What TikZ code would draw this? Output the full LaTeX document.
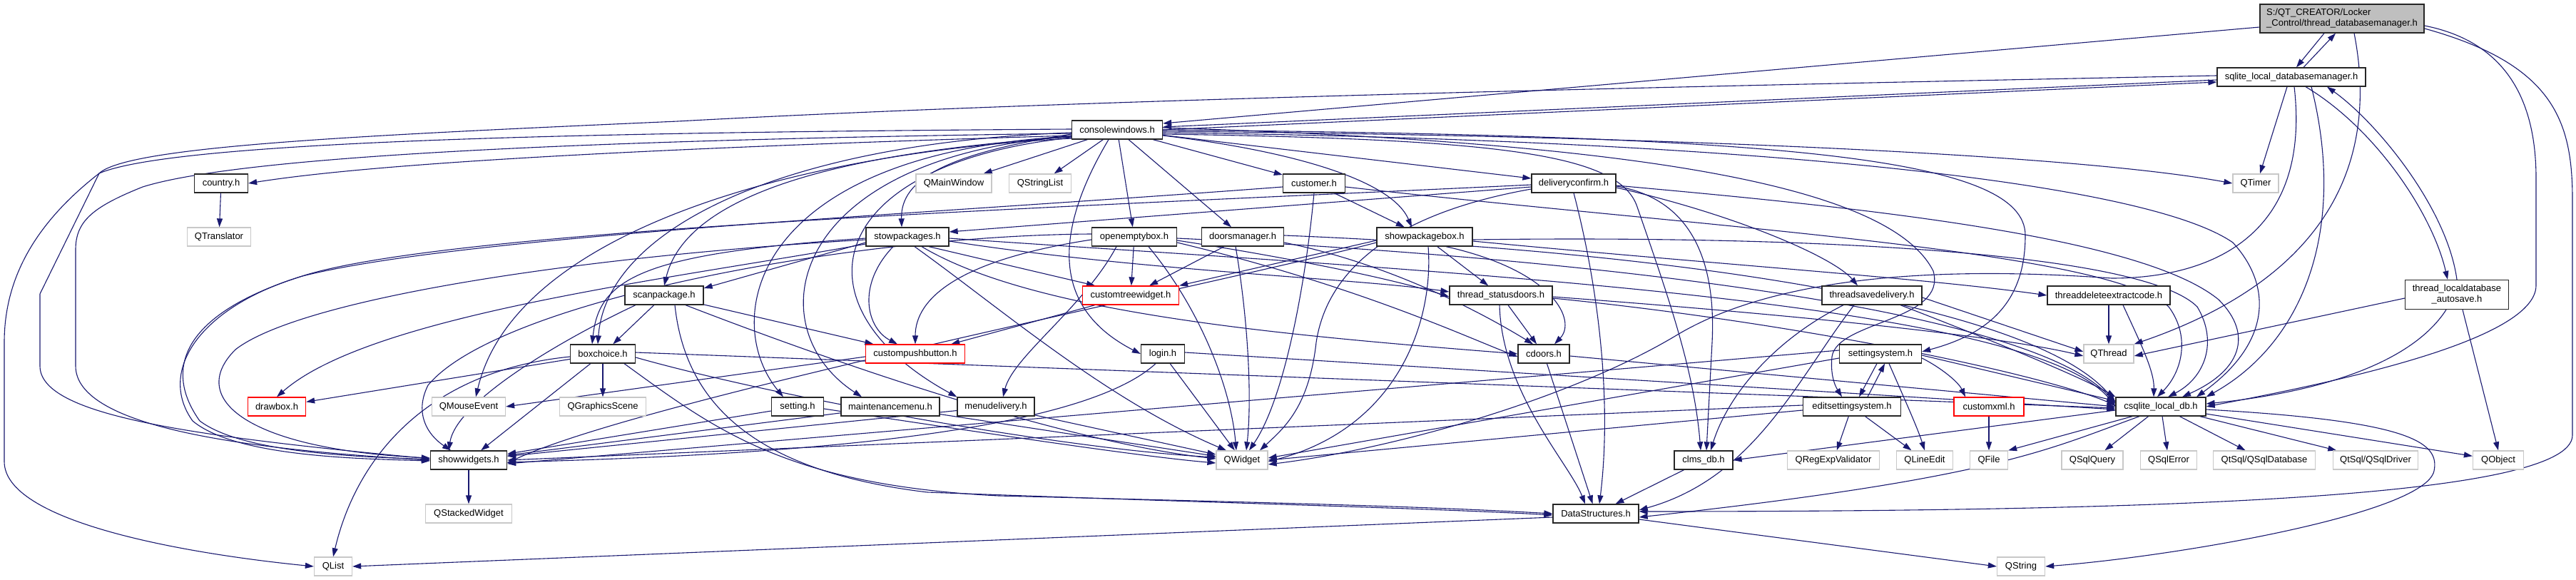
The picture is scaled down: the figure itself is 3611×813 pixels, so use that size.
\documentclass[tikz,border=0pt]{standalone}
\usepackage{fontspec}
\setmainfont{Liberation Sans}
\usetikzlibrary{arrows.meta,backgrounds}
\definecolor{edgec}{HTML}{191970}
\definecolor{extc}{HTML}{C8C8C8}
\definecolor{mainfill}{HTML}{BFBFBF}
\begin{document}
\begin{tikzpicture}[x=1pt,y=-1pt,font=\fontsize{13}{15}\selectfont,
  nd/.style={fill=white,line width=1.3pt,minimum height=26pt,inner sep=0pt,anchor=center},
  doc/.style={nd,draw=black!85},
  ext/.style={nd,draw=extc},
  redb/.style={nd,draw=red},
  mainst/.style={nd,draw=black!85,fill=mainfill,align=left,inner sep=3pt},
  e/.style={draw=edgec,line width=1.1pt,-{Triangle[length=12pt,width=8pt]}}]
\useasboundingbox (0,0) rectangle (3611,813);

% ---------- nodes ----------
\node[mainst,minimum width=230pt,minimum height=40pt] (main) at (3283,26) {S:/QT\_CREATOR/Locker\\\_Control/thread\_databasemanager.h};
\node[doc,minimum width=208pt] (sqlm) at (3212,108) {sqlite\_local\_databasemanager.h};
\node[doc,minimum width=127pt] (cw) at (1566,182) {consolewindows.h};
\node[doc,minimum width=75pt] (country) at (310,257) {country.h};
\node[ext,minimum width=89pt] (qtrans) at (307,332) {QTranslator};
\node[ext,minimum width=106pt] (qmain) at (1337,257) {QMainWindow};
\node[ext,minimum width=87pt] (qsl) at (1458,257) {QStringList};
\node[doc,minimum width=87pt] (cust) at (1842,257) {customer.h};
\node[doc,minimum width=118pt] (dconf) at (2206,257) {deliveryconfirm.h};
\node[ext,minimum width=64pt] (qtimer) at (3162,257) {QTimer};
\node[doc,minimum width=116pt] (stow) at (1272,332) {stowpackages.h};
\node[doc,minimum width=119pt] (oeb) at (1590,332) {openemptybox.h};
\node[doc,minimum width=115pt] (dm) at (1742,332) {doorsmanager.h};
\node[doc,minimum width=134pt] (spb) at (1997,332) {showpackagebox.h};
\node[doc,minimum width=110pt] (scan) at (931,414) {scanpackage.h};
\node[redb,minimum width=135pt] (ctw) at (1585,414) {customtreewidget.h};
\node[doc,minimum width=144pt] (tsd) at (2104,414) {thread\_statusdoors.h};
\node[doc,minimum width=140pt] (tsdel) at (2624,414) {threadsavedelivery.h};
\node[doc,minimum width=172pt] (tdec) at (2956,414) {threaddeleteextractcode.h};
\node[doc,minimum width=145pt,minimum height=41pt,align=center] (tlda) at (3444,413) {thread\_localdatabase\\\_autosave.h};
\node[doc,minimum width=91pt] (box) at (845,496) {boxchoice.h};
\node[redb,minimum width=139pt] (cpb) at (1283,496) {custompushbutton.h};
\node[doc,minimum width=61pt] (login) at (1630,496) {login.h};
\node[doc,minimum width=72pt] (cdoors) at (2164,496) {cdoors.h};
\node[doc,minimum width=115pt] (ss) at (2636,496) {settingsystem.h};
\node[ext,minimum width=70pt] (qthread) at (2956,496) {QThread};
\node[redb,minimum width=81pt] (drawbox) at (388,570) {drawbox.h};
\node[ext,minimum width=103pt] (qme) at (657,570) {QMouseEvent};
\node[ext,minimum width=121pt] (qgs) at (845,570) {QGraphicsScene};
\node[doc,minimum width=73pt] (setting) at (1118,570) {setting.h};
\node[doc,minimum width=138pt] (mmenu) at (1248,570) {maintenancemenu.h};
\node[doc,minimum width=108pt] (mdel) at (1396,570) {menudelivery.h};
\node[doc,minimum width=137pt] (ess) at (2596,570) {editsettingsystem.h};
\node[redb,minimum width=98pt] (cxml) at (2788,570) {customxml.h};
\node[doc,minimum width=126pt] (csql) at (3029,570) {csqlite\_local\_db.h};
\node[doc,minimum width=107pt] (sw) at (657,645) {showwidgets.h};
\node[ext,minimum width=72pt] (qwidget) at (1741,645) {QWidget};
\node[doc,minimum width=82pt] (clms) at (2388,645) {clms\_db.h};
\node[ext,minimum width=129pt] (qrev) at (2570,645) {QRegExpValidator};
\node[ext,minimum width=79pt] (qle) at (2698,645) {QLineEdit};
\node[ext,minimum width=53pt] (qfile) at (2788,645) {QFile};
\node[ext,minimum width=86pt] (qsq) at (2933,645) {QSqlQuery};
\node[ext,minimum width=79pt] (qse) at (3040,645) {QSqlError};
\node[ext,minimum width=143pt] (qsdb) at (3174,645) {QtSql/QSqlDatabase};
\node[ext,minimum width=119pt] (qsdrv) at (3330,645) {QtSql/QSqlDriver};
\node[ext,minimum width=71pt] (qobj) at (3502,645) {QObject};
\node[ext,minimum width=121pt] (qsw) at (657,720) {QStackedWidget};
\node[doc,minimum width=120pt] (ds) at (2237,720) {DataStructures.h};
\node[ext,minimum width=53pt] (qlist) at (467,794) {QList};
\node[ext,minimum width=67pt] (qstring) at (2833,794) {QString};

% ---------- edges ----------
\begin{scope}[on background layer]
\fill[white] (0,0) rectangle (3611,813);
% main
\draw[e] ([xshift=-25pt]main.south) -- ([xshift=7pt]sqlm.north);
\draw[e] ([xshift=17pt]sqlm.north) -- ([xshift=-9pt]main.south);
\draw[e] ([yshift=-12pt]main.west) -- ([yshift=9pt]cw.east);
\draw[e] ([xshift=17pt]main.south) .. controls (3330,200) and (3290,380) .. (qthread.north east);
\draw[e] ([yshift=-10pt]main.east) .. controls (3520,60) and (3555,150) .. (3555,250) -- (3555,400) .. controls (3555,480) and (3250,540) .. (csql.east);
\draw[e] ([yshift=-14pt]main.east) .. controls (3580,90) and (3606,170) .. (3606,280) -- (3606,610) .. controls (3606,700) and (3000,717) .. ([yshift=3pt]ds.east);
% sqlite_local_databasemanager
\draw[e] ([yshift=-4pt]sqlm.west) -- ([yshift=4pt]cw.east);
\draw[e] (cw.east) -- ([yshift=-7pt]sqlm.west);
\draw[e] ([xshift=-6pt]sqlm.south) -- ([xshift=6pt]qtimer.north);
\draw[e] ([xshift=28pt]sqlm.south) .. controls (3290,320) and (3230,480) .. (csql.north east);
\draw[e] ([xshift=20pt]sqlm.south) .. controls (3330,180) and (3410,300) .. ([xshift=-13pt]tlda.north);
\draw[e] (tlda.north) .. controls (3430,290) and (3330,170) .. ([xshift=50pt]sqlm.south);
\draw[e] ([xshift=4pt]sqlm.south) .. controls (3240,330) and (3100,390) .. (2960,390) .. controls (2750,375) and (2500,380) .. (2350,470) .. controls (2200,560) and (1950,630) .. ([yshift=-6pt]qwidget.east);
\draw[e] ([yshift=2pt]sqlm.west) .. controls (2300,122) and (1500,140) .. (950,170) .. controls (500,190) and (180,205) .. (139,243) .. controls (40,320) and (6,400) .. (6,480) -- (6,647) .. controls (6,730) and (250,775) .. (qlist.west);
% consolewindows
\draw[e] ([yshift=-8pt]cw.west) .. controls (1000,205) and (550,225) .. (country.east);
\draw[e] (cw) -- (qmain);
\draw[e] (cw) -- (qsl);
\draw[e] (cw) -- (cust);
\draw[e] (cw) -- (dconf);
\draw[e] ([yshift=-2pt]cw.east) .. controls (2300,190) and (2900,215) .. (qtimer.west);
\draw[e] ([yshift=-6pt]cw.west) .. controls (1330,215) and (1262,250) .. ([xshift=-8pt]stow.north);
\draw[e] (cw) -- (oeb);
\draw[e] (cw) -- (dm);
\draw[e] ([yshift=-8pt]cw.east) .. controls (1800,210) and (1950,250) .. ([xshift=-18pt]spb.north);
\draw[e] ([yshift=-10pt]cw.west) .. controls (1150,215) and (960,280) .. (scan.north);
\draw[e] ([yshift=-4pt]cw.west) .. controls (1100,200) and (850,320) .. ([xshift=-7pt]box.north);
\draw[e] ([xshift=-12pt]cw.south) .. controls (1480,320) and (1470,430) .. (login.west);
\draw[e] ([yshift=-9pt]cw.west) .. controls (1050,215) and (1010,450) .. ([xshift=-20pt]setting.north);
\draw[e] ([yshift=-9pt]cw.west) .. controls (1100,220) and (1060,460) .. ([xshift=-40pt]mmenu.north);
\draw[e] ([yshift=-11pt]cw.west) .. controls (1150,230) and (1110,430) .. (mdel.north west);
\draw[e] ([yshift=1pt]cw.west) .. controls (900,185) and (250,195) .. (139,243) -- (56,412) -- (56,513) .. controls (56,580) and (250,610) .. ([yshift=2pt]sw.west);
\draw[e] ([yshift=-5pt]cw.west) .. controls (900,195) and (350,215) .. (200,262) .. controls (130,290) and (106,310) .. (106,350) -- (106,513) .. controls (106,600) and (350,630) .. (sw.west);
\draw[e] ([yshift=-12pt]cw.west) .. controls (1100,215) and (720,330) .. ([xshift=10pt]qme.north);
\draw[e] ([yshift=-4pt]cw.east) .. controls (2400,195) and (3000,250) .. (3130,340) .. controls (3185,400) and (3185,480) .. ([xshift=50pt]csql.north);
\draw[e] (cw.east) .. controls (2500,190) and (2839,220) .. (2839,330) .. controls (2839,430) and (2780,470) .. ([yshift=3pt]ss.east);
\draw[e] ([yshift=3pt]cw.east) .. controls (2300,200) and (2650,260) .. (2710,380) .. controls (2730,450) and (2575,450) .. (2568,500) .. controls (2565,530) and (2575,545) .. ([xshift=-14pt]ess.north);
\draw[e] ([yshift=-6pt]cw.east) .. controls (2100,195) and (2270,215) .. (2295,290) .. controls (2340,420) and (2375,520) .. ([xshift=-4pt]clms.north);
% customer
\draw[e] (cust) -- (spb);
\draw[e] (cust.south) .. controls (1830,400) and (1800,560) .. ([xshift=10pt]qwidget.north);
\draw[e] ([yshift=-5pt]cust.west) .. controls (1300,300) and (650,330) .. (424,387) .. controls (280,430) and (220,520) .. (270,590) .. controls (330,640) and (500,643) .. ([yshift=-1pt]sw.west);
\draw[e] ([yshift=-5pt]cust.east) .. controls (2400,320) and (2950,350) .. (3040,430) .. controls (3070,470) and (3060,520) .. ([xshift=-5pt]csql.north);
% deliveryconfirm
\draw[e] ([yshift=-5pt]dconf.west) -- ([yshift=7pt]stow.east);
\draw[e] ([yshift=-2pt]dconf.west) .. controls (1500,290) and (650,320) .. (430,385) .. controls (250,440) and (230,520) .. (280,590) .. controls (340,635) and (500,640) .. ([yshift=1pt]sw.west);
\draw[e] ([yshift=-8pt]dconf.west) .. controls (1950,300) and (1860,380) .. (1845,480) .. controls (1835,570) and (1800,600) .. ([xshift=25pt]qwidget.north);
\draw[e] (dconf.south) .. controls (2240,400) and (2260,560) .. ([xshift=5pt]ds.north);
\draw[e] ([yshift=-4pt]dconf.east) .. controls (2380,280) and (2405,380) .. (2400,480) -- ([xshift=4pt]clms.north);
\draw[e] ([yshift=-6pt]dconf.east) .. controls (2430,300) and (2570,360) .. ([xshift=-20pt]tsdel.north);
\draw[e] ([yshift=-3pt]dconf.east) .. controls (2600,290) and (3000,330) .. (3110,420) .. controls (3160,470) and (3140,520) .. ([xshift=30pt]csql.north);
% stowpackages
\draw[e] ([xshift=-20pt]stow.south) .. controls (1200,400) and (1215,460) .. ([xshift=-25pt]cpb.north);
\draw[e] ([xshift=30pt]stow.south) -- ([xshift=-50pt]ctw.north);
\draw[e] ([yshift=-8pt]stow.west) -- ([yshift=10pt]scan.east);
\draw[e] ([yshift=-4pt]stow.west) .. controls (800,360) and (420,420) .. (330,490) .. controls (260,560) and (350,630) .. ([yshift=3pt]sw.west);
\draw[e] ([yshift=-2pt]stow.west) .. controls (900,355) and (840,390) .. ([xshift=-15pt]box.north);
\draw[e] ([yshift=-10pt]stow.west) .. controls (950,390) and (520,440) .. (drawbox.north);
\draw[e] ([xshift=10pt]stow.south) .. controls (1400,430) and (1550,560) .. ([xshift=-22pt]qwidget.north);
\draw[e] ([yshift=-6pt]stow.east) .. controls (1600,380) and (1900,390) .. ([yshift=5pt]tsd.west);
\draw[e] ([xshift=20pt]stow.south) .. controls (1450,440) and (1800,470) .. (cdoors.west);
\draw[e] ([yshift=-2pt]stow.east) .. controls (2000,380) and (2850,420) .. (csql.west);
% openemptybox
\draw[e] (oeb) -- (ctw);
\draw[e] ([yshift=-4pt]oeb.west) .. controls (1340,365) and (1283,420) .. (cpb.north);
\draw[e] ([xshift=20pt]oeb.south) .. controls (1680,430) and (1725,540) .. ([xshift=-8pt]qwidget.north);
\draw[e] ([xshift=-25pt]oeb.south) .. controls (1520,430) and (1420,500) .. ([xshift=10pt]mdel.north);
\draw[e] ([yshift=4pt]oeb.west) .. controls (1200,330) and (700,420) .. (600,540) .. controls (580,580) and (600,610) .. ([xshift=-25pt]sw.north);
\draw[e] ([yshift=-5pt]oeb.east) .. controls (1800,360) and (1950,390) .. ([yshift=-2pt]tsd.west);
\draw[e] ([yshift=-8pt]oeb.east) .. controls (1900,400) and (2050,470) .. ([yshift=-4pt]cdoors.west);
\draw[e] ([yshift=-2pt]oeb.east) .. controls (2200,360) and (2850,430) .. ([yshift=4pt]csql.west);
% doorsmanager
\draw[e] (dm) -- (ctw);
\draw[e] ([xshift=-10pt]dm.south) .. controls (1750,450) and (1755,560) .. ([xshift=6pt]qwidget.north);
\draw[e] ([yshift=-8pt]dm.east) .. controls (1950,370) and (2080,440) .. ([xshift=-15pt]cdoors.north);
\draw[e] ([yshift=2pt]dm.east) .. controls (2300,350) and (2850,420) .. ([yshift=6pt]csql.west);
% showpackagebox
\draw[e] ([yshift=-5pt]spb.west) -- (ctw.north east);
\draw[e] (spb) -- (tsd);
\draw[e] ([xshift=30pt]spb.south) .. controls (2180,380) and (2210,450) .. ([xshift=15pt]cdoors.north);
\draw[e] ([xshift=5pt]spb.south) .. controls (2010,450) and (1960,600) .. ([yshift=-2pt]qwidget.east);
\draw[e] ([yshift=-8pt]spb.west) .. controls (1700,400) and (900,560) .. ([yshift=-4pt]sw.east);
\draw[e] ([yshift=-4pt]spb.east) .. controls (2500,330) and (3000,350) .. (3080,430) .. controls (3110,480) and (3090,530) .. ([xshift=10pt]csql.north);
\draw[e] ([yshift=-6pt]spb.east) .. controls (2400,370) and (2700,390) .. (tdec.west);
% scanpackage
\draw[e] (scan) -- (box);
\draw[e] (scan) -- (cpb);
\draw[e] ([xshift=-40pt]scan.south) .. controls (800,470) and (640,560) .. ([xshift=-28pt]sw.north);
\draw[e] ([xshift=15pt]scan.south) .. controls (960,560) and (1050,660) .. (1300,690) .. controls (1700,705) and (2000,712) .. ([yshift=-2pt]ds.west);
\draw[e] ([xshift=30pt]scan.south) .. controls (1200,520) and (1500,620) .. ([yshift=2pt]qwidget.west);
% boxchoice
\draw[e] (box) -- (drawbox);
\draw[e] (box) -- (qgs);
\draw[e] (box) -- (sw);
\draw[e] ([yshift=-4pt]box.west) .. controls (600,520) and (500,640) .. (qlist.north);
\draw[e] ([xshift=30pt]box.south) .. controls (1000,600) and (1100,680) .. (1400,695) .. controls (1800,705) and (2000,710) .. (ds.west);
\draw[e] ([yshift=-5pt]box.east) .. controls (1100,560) and (1500,630) .. ([yshift=4pt]qwidget.west);
\draw[e] ([yshift=2pt]box.east) -- ([yshift=-2pt]csql.west);
% custompushbutton, customtreewidget
\draw[e] ([yshift=-4pt]cpb.west) -- (qme.east);
\draw[e] (ctw) -- (cpb);
% login
\draw[e] (login) -- (qwidget);
\draw[e] ([xshift=-10pt]login.south) .. controls (1500,620) and (1000,640) .. ([yshift=-3pt]sw.east);
\draw[e] ([yshift=2pt]login.east) -- ([yshift=-4pt]csql.west);
% setting, maintenancemenu, menudelivery
\draw[e] (setting) -- (sw);
\draw[e] ([yshift=-3pt]setting.east) .. controls (1400,610) and (1600,640) .. ([yshift=-4pt]qwidget.west);
\draw[e] (mmenu) -- (sw);
\draw[e] (mmenu) -- (qwidget);
\draw[e] (mdel) -- (sw);
\draw[e] (mdel) -- (qwidget);
% thread_statusdoors
\draw[e] (tsd) -- (cdoors);
\draw[e] ([xshift=-2pt]tsd.south) .. controls (2105,550) and (2200,650) .. ([xshift=-15pt]ds.north);
\draw[e] ([yshift=-4pt]tsd.east) .. controls (2500,450) and (2850,520) .. ([yshift=2pt]csql.west);
\draw[e] ([yshift=-2pt]tsd.east) .. controls (2500,440) and (2800,470) .. ([yshift=-3pt]qthread.west);
% cdoors
\draw[e] (cdoors) -- (ds);
\draw[e] ([yshift=-3pt]cdoors.east) -- (csql.west);
% threadsavedelivery
\draw[e] ([yshift=-3pt]tsdel.east) -- ([yshift=3pt]qthread.west);
\draw[e] ([xshift=40pt]tsdel.south) .. controls (2800,480) and (2920,530) .. (csql.north west);
\draw[e] ([xshift=-40pt]tsdel.south) .. controls (2480,480) and (2420,560) .. ([xshift=10pt]clms.north);
\draw[e] ([xshift=-25pt]tsdel.south) .. controls (2520,530) and (2460,670) .. ([yshift=5pt]ds.east);
% threaddeleteextractcode
\draw[e] (tdec) -- (qthread);
\draw[e] ([xshift=20pt]tdec.south) .. controls (3000,480) and (3020,520) .. ([xshift=-10pt]csql.north);
% thread_localdatabase_autosave
\draw[e] ([yshift=-5pt]tlda.west) -- ([yshift=-3pt]qthread.east);
\draw[e] ([xshift=-15pt]tlda.south) .. controls (3380,510) and (3250,550) .. ([yshift=4pt]csql.east);
\draw[e] ([xshift=8pt]tlda.south) -- (qobj.north);
% settingsystem
\draw[e] ([xshift=-5pt]ss.south) -- ([xshift=10pt]ess.north);
\draw[e] ([xshift=22pt]ess.north) -- ([xshift=6pt]ss.south);
\draw[e] ([xshift=12pt]ss.south) .. controls (2670,560) and (2688,600) .. (qle.north);
\draw[e] ([yshift=-6pt]ss.east) .. controls (2720,515) and (2745,535) .. ([xshift=-33pt]cxml.north);
\draw[e] ([yshift=-2pt]ss.east) -- ([yshift=8pt]csql.west);
\draw[e] ([yshift=-6pt]ss.west) -- ([yshift=3pt]qwidget.east);
\draw[e] ([yshift=5pt]ss.west) -- ([yshift=-5pt]sw.east);
% editsettingsystem
\draw[e] (ess) -- (qrev);
\draw[e] (ess) -- (qle);
\draw[e] ([yshift=-5pt]ess.west) -- (qwidget.east);
\draw[e] ([yshift=2pt]ess.west) -- (sw.east);
% customxml, csqlite_local_db
\draw[e] (cxml) -- (qfile);
\draw[e] ([xshift=-40pt]csql.south) -- (qfile.north east);
\draw[e] (csql) -- (qsq);
\draw[e] (csql) -- (qse);
\draw[e] (csql) -- (qsdb);
\draw[e] (csql) -- (qsdrv);
\draw[e] (csql) -- (qobj);
\draw[e] ([yshift=-4pt]csql.east) .. controls (3380,590) and (3420,620) .. (3412,660) .. controls (3400,720) and (3050,780) .. (qstring.east);
\draw[e] ([xshift=-30pt]csql.south) .. controls (2870,630) and (2800,670) .. ([yshift=-5pt]ds.east);
\draw[e] ([yshift=-5pt]csql.west) -- (clms.east);
% bottom
\draw[e] (clms) -- (ds);
\draw[e] ([yshift=-5pt]ds.west) -- (qlist.east);
\draw[e] ([yshift=-8pt]ds.east) -- (qstring.west);
\draw[e] (sw) -- (qsw);
\draw[e] (country) -- (qtrans);
\end{scope}
\end{tikzpicture}
\end{document}
